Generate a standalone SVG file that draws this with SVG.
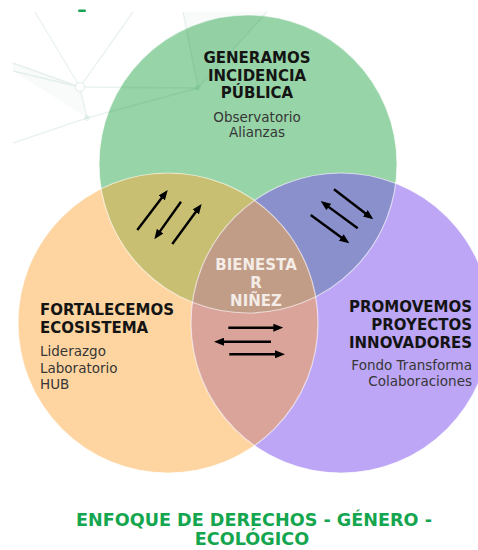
<svg xmlns="http://www.w3.org/2000/svg" width="478" height="550" viewBox="0 0 478 550">
  <style>
    .title { font-family: "DejaVu Sans", "Liberation Sans", sans-serif; font-weight: bold; font-size: 15px; fill: #141414; }
    .sub { font-family: "DejaVu Sans", "Liberation Sans", sans-serif; font-size: 13.5px; fill: #363636; }
    .core { font-family: "DejaVu Sans", "Liberation Sans", sans-serif; font-weight: bold; font-size: 15px; fill: #f4ece6; text-anchor: middle; }
    .foot { font-family: "DejaVu Sans", "Liberation Sans", sans-serif; font-weight: bold; font-size: 17.6px; fill: #14a64f; text-anchor: middle; }
    .net { stroke: #2e8b6a; stroke-opacity: 0.1; stroke-width: 1.4; fill: none; }
    .netfill { fill: #2e8b6a; fill-opacity: 0.035; stroke: none; }
    .edge { fill: none; stroke: #ffffff; stroke-opacity: 0.6; stroke-width: 1.2; }
    .arrow { stroke: #000; stroke-width: 2.4; fill: none; marker-end: url(#head); }
  </style>
  <defs>
    <marker id="head" markerUnits="userSpaceOnUse" viewBox="0 0 10 8" markerWidth="10" markerHeight="8" refX="4" refY="4" orient="auto">
      <path d="M0,0 L10,4 L0,8 z" fill="#000"/>
    </marker>
    <clipPath id="clipGreen"><circle cx="248" cy="164" r="149"/></clipPath>
    <clipPath id="clipOrange"><circle cx="168" cy="323" r="150"/></clipPath>
    <clipPath id="clipPurple"><circle cx="341" cy="323" r="150"/></clipPath>
  </defs>

  <rect width="478" height="550" fill="#ffffff"/>

  <!-- main circles -->
  <g id="node-incidencia-circle">
    <circle cx="248" cy="164" r="149" fill="#97d4a7"/>
  </g>
  <g id="node-ecosistema-circle">
    <circle cx="168" cy="323" r="150" fill="#fed5a0"/>
  </g>
  <g id="node-proyectos-circle">
    <circle cx="341" cy="323" r="150" fill="#bca6f5"/>
  </g>

  <!-- overlaps -->
  <g id="overlaps">
    <g clip-path="url(#clipGreen)"><circle cx="168" cy="323" r="150" fill="#c8bf72"/></g>
    <g clip-path="url(#clipGreen)"><circle cx="341" cy="323" r="150" fill="#8990cc"/></g>
    <g clip-path="url(#clipOrange)"><circle cx="341" cy="323" r="150" fill="#daa49b"/></g>
    <g clip-path="url(#clipGreen)"><g clip-path="url(#clipOrange)"><circle cx="341" cy="323" r="150" fill="#c19c87"/></g></g>
    <circle class="edge" cx="248" cy="164" r="149"/>
    <circle class="edge" cx="168" cy="323" r="150"/>
    <circle class="edge" cx="341" cy="323" r="150"/>
  </g>

  <!-- faint network backdrop -->
  <g id="network">
    <polygon class="netfill" points="13,63 80,87 86,117 13,71"/>
    <polygon class="netfill" points="183,12 198,88 267,12"/>
    <polyline class="net" points="35,12 80,87 133,12"/>
    <polyline class="net" points="13,63 80,87 13,71"/>
    <line class="net" x1="80" y1="87" x2="198" y2="88"/>
    <line class="net" x1="80" y1="87" x2="87" y2="118"/>
    <polyline class="net" points="13,143 87,118 198,88"/>
    <polyline class="net" points="183,12 198,88 267,12"/>
    <circle cx="80" cy="87" r="4.5" fill="#ffffff" stroke="#2e8b6a" stroke-opacity="0.1" stroke-width="1.4"/>
    <circle cx="87" cy="118" r="3" fill="#2e8b6a" fill-opacity="0.08"/>
    <circle cx="198" cy="88" r="3" fill="#2e8b6a" fill-opacity="0.08"/>
  </g>
  <rect x="78" y="9.5" width="8" height="2.5" rx="1.2" fill="#1aa255"/>

  <!-- labels -->
  <g id="node-incidencia">
    <text class="title" x="257" y="63" text-anchor="middle">GENERAMOS</text>
    <text class="title" x="257" y="80.5" text-anchor="middle">INCIDENCIA</text>
    <text class="title" x="257" y="98" text-anchor="middle">PÚBLICA</text>
    <text class="sub" x="257" y="122" text-anchor="middle">Observatorio</text>
    <text class="sub" x="257" y="137" text-anchor="middle">Alianzas</text>
  </g>
  <g id="node-ecosistema">
    <text class="title" x="40" y="315">FORTALECEMOS</text>
    <text class="title" x="40" y="333">ECOSISTEMA</text>
    <text class="sub" x="40" y="356">Liderazgo</text>
    <text class="sub" x="40" y="372.5">Laboratorio</text>
    <text class="sub" x="40" y="389">HUB</text>
  </g>
  <g id="node-proyectos">
    <text class="title" x="472" y="312" text-anchor="end">PROMOVEMOS</text>
    <text class="title" x="472" y="330" text-anchor="end">PROYECTOS</text>
    <text class="title" x="472" y="348" text-anchor="end">INNOVADORES</text>
    <text class="sub" x="472" y="370" text-anchor="end">Fondo Transforma</text>
    <text class="sub" x="472" y="386" text-anchor="end">Colaboraciones</text>
  </g>
  <g id="node-bienestar">
    <text class="core" x="256" y="270">BIENESTA</text>
    <text class="core" x="256" y="288">R</text>
    <text class="core" x="256" y="306">NIÑEZ</text>
  </g>

  <!-- connectors -->
  <g id="connectors">
    <line class="arrow" x1="137.3" y1="230" x2="164.1" y2="194.8"/>
    <line class="arrow" x1="181" y1="201.7" x2="157.8" y2="234.4"/>
    <line class="arrow" x1="172.3" y1="244" x2="198.1" y2="208.8"/>

    <line class="arrow" x1="334" y1="189.3" x2="368.5" y2="215.7"/>
    <line class="arrow" x1="357.7" y1="228.3" x2="325.5" y2="204.6"/>
    <line class="arrow" x1="310.7" y1="215" x2="344.5" y2="239.8"/>

    <line class="arrow" x1="228.3" y1="327.7" x2="277.3" y2="327.7"/>
    <line class="arrow" x1="271" y1="341.7" x2="220" y2="341.7"/>
    <line class="arrow" x1="229.3" y1="354.3" x2="279" y2="354.3"/>
  </g>

  <g id="footer">
    <text class="foot" x="254" y="526">ENFOQUE DE DERECHOS - GÉNERO -</text>
    <text class="foot" x="252" y="545">ECOLÓGICO</text>
  </g>
</svg>
